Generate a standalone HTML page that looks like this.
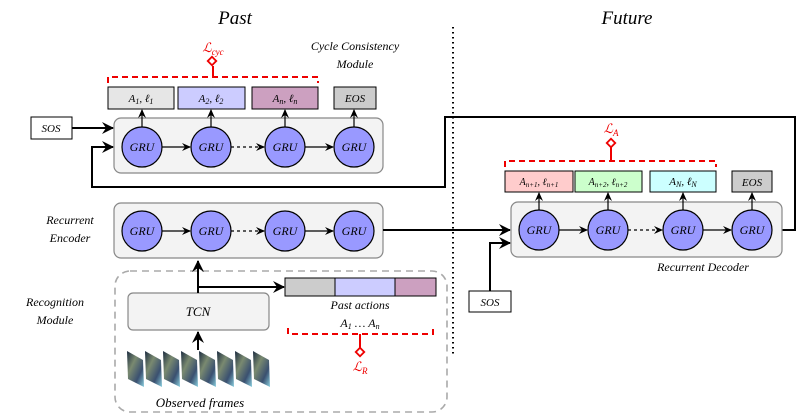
<!DOCTYPE html>
<html><head><meta charset="utf-8"><style>
html,body{margin:0;padding:0;background:#fff;}
svg{display:block;}
text{font-family:"Liberation Serif",serif;font-style:italic;}
</style></head><body>
<svg width="806" height="415" viewBox="0 0 806 415" xmlns="http://www.w3.org/2000/svg">
<defs>
<marker id="ah" markerWidth="10" markerHeight="10" refX="8" refY="5" orient="auto" markerUnits="userSpaceOnUse">
<path d="M0,1 L9,5 L0,9 L3,5 z" fill="#000"/></marker>
<marker id="ahb" markerWidth="14" markerHeight="14" refX="11" refY="7" orient="auto" markerUnits="userSpaceOnUse">
<path d="M0,1 L12,7 L0,13 L4,7 z" fill="#000"/></marker>
<linearGradient id="fr" x1="0" y1="0" x2="1" y2="1">
<stop offset="0" stop-color="#1a2a40"/><stop offset="0.35" stop-color="#7a8a70"/><stop offset="0.7" stop-color="#3a5070"/><stop offset="1" stop-color="#8ad0e0"/></linearGradient>
</defs>
<text x="235" y="24" font-size="19" text-anchor="middle">Past</text>
<text x="627" y="24" font-size="19" text-anchor="middle">Future</text>
<line x1="453" y1="27" x2="453" y2="356" stroke="#000" stroke-width="2" stroke-dasharray="1.5,3.5"/>

<text x="355" y="50" font-size="12" text-anchor="middle">Cycle Consistency</text>
<text x="355" y="68" font-size="12" text-anchor="middle">Module</text>
<text x="213" y="52" font-size="13" fill="#e00" text-anchor="middle">ℒ<tspan font-size="9" dy="3">cyc</tspan></text>
<line x1="213" y1="66" x2="213" y2="77" stroke="#e00" stroke-width="2"/>
<rect x="209" y="58" width="6" height="6" transform="rotate(45 212 61)" fill="#fff" stroke="#e00" stroke-width="1.8"/>
<polyline points="108,83 108,77 318,77 318,83" fill="none" stroke="#e00" stroke-width="2" stroke-dasharray="6,4"/>
<rect x="114" y="118" width="269" height="55" rx="7" fill="#f3f3f3" stroke="#888" stroke-width="1.2"/>
<rect x="108" y="87" width="66" height="22" fill="#e6e6e6" stroke="#000"/>
<rect x="178" y="87" width="67" height="22" fill="#ccccff" stroke="#000"/>
<rect x="252" y="87" width="66" height="22" fill="#cca0c0" stroke="#000"/>
<rect x="334" y="87" width="42" height="22" fill="#cccccc" stroke="#000"/>
<text x="141" y="102" font-size="11" text-anchor="middle">A<tspan font-size="8" dy="2">1</tspan><tspan dy="-2">, ℓ</tspan><tspan font-size="8" dy="2">1</tspan></text>
<text x="211" y="102" font-size="11" text-anchor="middle">A<tspan font-size="8" dy="2">2</tspan><tspan dy="-2">, ℓ</tspan><tspan font-size="8" dy="2">2</tspan></text>
<text x="285" y="102" font-size="11" text-anchor="middle">A<tspan font-size="8" dy="2">n</tspan><tspan dy="-2">, ℓ</tspan><tspan font-size="8" dy="2">n</tspan></text>
<text x="355" y="102" font-size="11" text-anchor="middle">EOS</text>
<g stroke="#000" stroke-width="1.2">
<line x1="142" y1="127" x2="142" y2="110" marker-end="url(#ah)"/>
<line x1="211" y1="127" x2="211" y2="110" marker-end="url(#ah)"/>
<line x1="285" y1="127" x2="285" y2="110" marker-end="url(#ah)"/>
<line x1="354" y1="127" x2="354" y2="110" marker-end="url(#ah)"/>
<line x1="162" y1="147" x2="190" y2="147" marker-end="url(#ah)"/>
<line x1="231" y1="147" x2="264" y2="147" stroke-dasharray="3,3" marker-end="url(#ah)"/>
<line x1="305" y1="147" x2="333" y2="147" marker-end="url(#ah)"/>
</g>
<g fill="#9999ff" stroke="#000" stroke-width="1.2">
<circle cx="142" cy="147" r="20"/><circle cx="211" cy="147" r="20"/><circle cx="285" cy="147" r="20"/><circle cx="354" cy="147" r="20"/>
</g>
<g font-size="12" text-anchor="middle">
<text x="142" y="151">GRU</text><text x="211" y="151">GRU</text><text x="285" y="151">GRU</text><text x="354" y="151">GRU</text>
</g>
<rect x="31" y="117" width="41" height="22" fill="#fff" stroke="#000"/>
<text x="51" y="132" font-size="11" text-anchor="middle">SOS</text>
<line x1="72" y1="128" x2="113" y2="128" stroke="#000" stroke-width="2" marker-end="url(#ahb)"/>
<polyline points="782,230 795,230 795,117 445,117 445,187 92,187 92,147 113,147" fill="none" stroke="#000" stroke-width="2" marker-end="url(#ahb)"/>

<text x="70" y="224" font-size="12" text-anchor="middle">Recurrent</text>
<text x="70" y="242" font-size="12" text-anchor="middle">Encoder</text>
<rect x="114" y="203" width="269" height="55" rx="7" fill="#f3f3f3" stroke="#888" stroke-width="1.2"/>
<g stroke="#000" stroke-width="1.2">
<line x1="162" y1="231" x2="190" y2="231" marker-end="url(#ah)"/>
<line x1="231" y1="231" x2="264" y2="231" stroke-dasharray="3,3" marker-end="url(#ah)"/>
<line x1="305" y1="231" x2="333" y2="231" marker-end="url(#ah)"/>
</g>
<g fill="#9999ff" stroke="#000" stroke-width="1.2">
<circle cx="142" cy="231" r="20"/><circle cx="211" cy="231" r="20"/><circle cx="285" cy="231" r="20"/><circle cx="354" cy="231" r="20"/>
</g>
<g font-size="12" text-anchor="middle">
<text x="142" y="235">GRU</text><text x="211" y="235">GRU</text><text x="285" y="235">GRU</text><text x="354" y="235">GRU</text>
</g>
<line x1="383" y1="230" x2="510" y2="230" stroke="#000" stroke-width="2" marker-end="url(#ahb)"/>

<rect x="115" y="271" width="332" height="141" rx="15" fill="none" stroke="#aaa" stroke-width="1.6" stroke-dasharray="7,5"/>
<text x="55" y="306" font-size="12" text-anchor="middle">Recognition</text>
<text x="55" y="324" font-size="12" text-anchor="middle">Module</text>
<rect x="128" y="293" width="141" height="37" rx="5" fill="#f3f3f3" stroke="#888" stroke-width="1.2"/>
<text x="198" y="316" font-size="13" text-anchor="middle">TCN</text>
<line x1="198" y1="293" x2="198" y2="261" stroke="#000" stroke-width="2" marker-end="url(#ahb)"/>
<polyline points="198,287 284,287" fill="none" stroke="#000" stroke-width="2" marker-end="url(#ahb)"/>
<line x1="198" y1="350" x2="198" y2="332" stroke="#000" stroke-width="2" marker-end="url(#ahb)"/>
<rect x="285" y="278" width="50" height="18" fill="#cccccc" stroke="#000"/>
<rect x="335" y="278" width="60" height="18" fill="#ccccff" stroke="#000"/>
<rect x="395" y="278" width="41" height="18" fill="#cca0c0" stroke="#000"/>
<text x="360" y="309" font-size="12" text-anchor="middle">Past actions</text>
<text x="360" y="327" font-size="12" text-anchor="middle">A<tspan font-size="8" dy="2">1</tspan><tspan dy="-2"> … A</tspan><tspan font-size="8" dy="2">n</tspan></text>
<polyline points="288,328 288,334 433,334 433,328" fill="none" stroke="#e00" stroke-width="2" stroke-dasharray="6,4"/>
<line x1="360" y1="334" x2="360" y2="348" stroke="#e00" stroke-width="2"/>
<rect x="357" y="349" width="6" height="6" transform="rotate(45 360 352)" fill="#fff" stroke="#e00" stroke-width="1.8"/>
<text x="360" y="371" font-size="13" fill="#e00" text-anchor="middle">ℒ<tspan font-size="9" dy="3">R</tspan></text>
<g>
<polygon points="127,351 143,360 144,387 128,379" fill="url(#fr)"/>
<polygon points="145,351 161,360 162,387 146,379" fill="url(#fr)"/>
<polygon points="163,351 179,360 180,387 164,379" fill="url(#fr)"/>
<polygon points="181,351 197,360 198,387 182,379" fill="url(#fr)"/>
<polygon points="199,351 215,360 216,387 200,379" fill="url(#fr)"/>
<polygon points="217,351 233,360 234,387 218,379" fill="url(#fr)"/>
<polygon points="235,351 251,360 252,387 236,379" fill="url(#fr)"/>
<polygon points="253,351 269,360 270,387 254,379" fill="url(#fr)"/>
</g>
<text x="200" y="407" font-size="13" text-anchor="middle">Observed frames</text>

<text x="611" y="133" font-size="13" fill="#e00" text-anchor="middle">ℒ<tspan font-size="9" dy="3">A</tspan></text>
<line x1="611" y1="147" x2="611" y2="161" stroke="#e00" stroke-width="2"/>
<rect x="608" y="140" width="6" height="6" transform="rotate(45 611 143)" fill="#fff" stroke="#e00" stroke-width="1.8"/>
<polyline points="505,167 505,161 716,161 716,167" fill="none" stroke="#e00" stroke-width="2" stroke-dasharray="6,4"/>
<rect x="511" y="202" width="271" height="55" rx="7" fill="#f3f3f3" stroke="#888" stroke-width="1.2"/>
<rect x="505" y="171" width="68" height="21" fill="#ffcccc" stroke="#000"/>
<rect x="575" y="171" width="67" height="21" fill="#ccffcc" stroke="#000"/>
<rect x="650" y="171" width="66" height="21" fill="#ccffff" stroke="#000"/>
<rect x="732" y="171" width="40" height="21" fill="#cccccc" stroke="#000"/>
<text x="539" y="185" font-size="10" text-anchor="middle">A<tspan font-size="7" dy="2">n+1</tspan><tspan dy="-2">, ℓ</tspan><tspan font-size="7" dy="2">n+1</tspan></text>
<text x="608" y="185" font-size="10" text-anchor="middle">A<tspan font-size="7" dy="2">n+2</tspan><tspan dy="-2">, ℓ</tspan><tspan font-size="7" dy="2">n+2</tspan></text>
<text x="683" y="185" font-size="11" text-anchor="middle">A<tspan font-size="8" dy="2">N</tspan><tspan dy="-2">, ℓ</tspan><tspan font-size="8" dy="2">N</tspan></text>
<text x="752" y="186" font-size="11" text-anchor="middle">EOS</text>
<g stroke="#000" stroke-width="1.2">
<line x1="539" y1="210" x2="539" y2="193" marker-end="url(#ah)"/>
<line x1="608" y1="210" x2="608" y2="193" marker-end="url(#ah)"/>
<line x1="683" y1="210" x2="683" y2="193" marker-end="url(#ah)"/>
<line x1="752" y1="210" x2="752" y2="193" marker-end="url(#ah)"/>
<line x1="559" y1="230" x2="587" y2="230" marker-end="url(#ah)"/>
<line x1="628" y1="230" x2="662" y2="230" stroke-dasharray="3,3" marker-end="url(#ah)"/>
<line x1="703" y1="230" x2="731" y2="230" marker-end="url(#ah)"/>
</g>
<g fill="#9999ff" stroke="#000" stroke-width="1.2">
<circle cx="539" cy="230" r="20"/><circle cx="608" cy="230" r="20"/><circle cx="683" cy="230" r="20"/><circle cx="752" cy="230" r="20"/>
</g>
<g font-size="12" text-anchor="middle">
<text x="539" y="234">GRU</text><text x="608" y="234">GRU</text><text x="683" y="234">GRU</text><text x="752" y="234">GRU</text>
</g>
<text x="703" y="271" font-size="12" text-anchor="middle">Recurrent Decoder</text>
<rect x="469" y="291" width="42" height="21" fill="#fff" stroke="#000"/>
<text x="490" y="306" font-size="11" text-anchor="middle">SOS</text>
<polyline points="490,291 490,243 510,243" fill="none" stroke="#000" stroke-width="2" marker-end="url(#ahb)"/>
</svg>
</body></html>
